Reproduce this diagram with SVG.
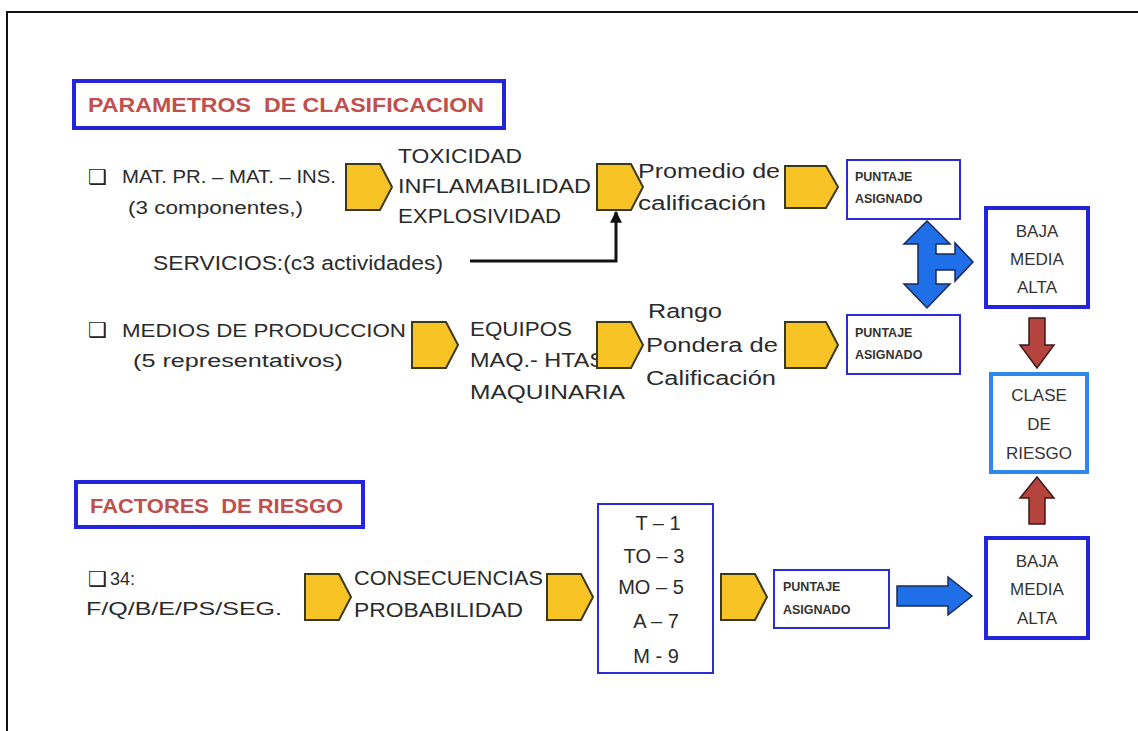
<svg xmlns="http://www.w3.org/2000/svg" width="1138" height="731" viewBox="0 0 1138 731">
<style>
text{font-family:"Liberation Sans",Arial,sans-serif;fill:#2b2b2b}
.t{font-size:20px}
.m{font-size:18px}
.h{font-size:21px;font-weight:bold;fill:#c0504d}
.s{font-size:12.5px;font-weight:bold;fill:#333}
.b{font-size:17px;fill:#333}
.cb{font-family:"DejaVu Sans",sans-serif;font-size:21px;font-weight:bold;fill:#222}
.pent{fill:#f7c325;stroke:#3a3a1a;stroke-width:2}
.box{fill:#fff;stroke:#2b2bd8;stroke-width:2}
.tbox{fill:#fff;stroke:#2424dc;stroke-width:4}
.blue{fill:#1f6fe8;stroke:#1a2a55;stroke-width:1.5}
.red{fill:#b5443f;stroke:#3a1a1a;stroke-width:1.5}
</style>
<defs>
<marker id="ah" viewBox="0 0 10 10" refX="9" refY="5" markerWidth="4" markerHeight="4" orient="auto"><path d="M0,0 L10,5 L0,10 Z" fill="#111"/></marker>
<path id="pg" d="M0,0 H34 L46,23 L34,46 H0 Z"/>
</defs>
<rect width="1138" height="731" fill="#fff"/>
<path d="M7,731 V12 H1138" fill="none" stroke="#111" stroke-width="2"/>

<g id="title1"><rect x="74" y="81" width="430" height="47" class="tbox"/><text x="88" y="112" class="h" textLength="396" lengthAdjust="spacingAndGlyphs">PARAMETROS&#160; DE CLASIFICACION</text></g>
<g id="title2"><rect x="76" y="482" width="287" height="45" class="tbox"/><text x="90" y="513" class="h" textLength="253" lengthAdjust="spacingAndGlyphs">FACTORES&#160; DE RIESGO</text></g>

<g id="matpr"><text x="88" y="184" class="cb">❑</text><text x="122" y="183" class="m" textLength="214" lengthAdjust="spacingAndGlyphs">MAT. PR. – MAT. – INS.</text><text x="128" y="214" class="m" textLength="175" lengthAdjust="spacingAndGlyphs">(3 componentes,)</text></g>
<g id="p1"><use href="#pg" x="346" y="164" class="pent"/></g>
<g id="tox"><text x="398" y="163" class="t" textLength="124" lengthAdjust="spacingAndGlyphs">TOXICIDAD</text><text x="398" y="193" class="t" textLength="193" lengthAdjust="spacingAndGlyphs">INFLAMABILIDAD</text><text x="398" y="223" class="t" textLength="163" lengthAdjust="spacingAndGlyphs">EXPLOSIVIDAD</text></g>
<g id="serv"><text x="153" y="270" class="t" textLength="290" lengthAdjust="spacingAndGlyphs">SERVICIOS:(c3 actividades)</text></g>
<g id="p2"><use href="#pg" x="597" y="164" class="pent"/></g>
<g id="prom"><text x="638" y="178" class="t" textLength="142" lengthAdjust="spacingAndGlyphs">Promedio de</text><text x="638" y="210" class="t" textLength="128" lengthAdjust="spacingAndGlyphs">calificación</text></g>
<g id="p3"><path d="M785,166 H826 L838,187 L826,208 H785 Z" class="pent"/></g>
<g id="punt1"><rect x="847" y="160" width="113" height="59" class="box"/><text x="855" y="181" class="s">PUNTAJE</text><text x="855" y="203" class="s">ASIGNADO</text></g>
<g id="bma1"><rect x="986" y="208" width="102" height="99" class="tbox"/><text x="1037" y="237" class="b" text-anchor="middle">BAJA</text><text x="1037" y="265" class="b" text-anchor="middle">MEDIA</text><text x="1037" y="293" class="b" text-anchor="middle">ALTA</text></g>

<g id="medios"><text x="88" y="337" class="cb">❑</text><text x="122" y="337" class="m" textLength="284" lengthAdjust="spacingAndGlyphs">MEDIOS DE PRODUCCION</text><text x="133" y="367" class="m" textLength="210" lengthAdjust="spacingAndGlyphs">(5 representativos)</text></g>
<g id="p4"><use href="#pg" x="412" y="322" class="pent"/></g>
<g id="equipos"><text x="470" y="336" class="t" textLength="102" lengthAdjust="spacingAndGlyphs">EQUIPOS</text><text x="470" y="367" class="t" textLength="135" lengthAdjust="spacingAndGlyphs">MAQ.- HTAS</text><text x="470" y="399" class="t" textLength="155" lengthAdjust="spacingAndGlyphs">MAQUINARIA</text></g>
<g id="p5"><use href="#pg" x="597" y="322" class="pent"/></g>
<g id="rango"><text x="648" y="318" class="t" textLength="74" lengthAdjust="spacingAndGlyphs">Rango</text><text x="646" y="352" class="t" textLength="132" lengthAdjust="spacingAndGlyphs">Pondera de</text><text x="646" y="385" class="t" textLength="130" lengthAdjust="spacingAndGlyphs">Calificación</text></g>
<g id="p6"><path d="M785,322 H826 L838,345 L826,368 H785 Z" class="pent"/></g>
<g id="punt2"><rect x="847" y="315" width="113" height="59" class="box"/><text x="855" y="337" class="s">PUNTAJE</text><text x="855" y="359" class="s">ASIGNADO</text></g>
<g id="clase"><rect x="991" y="374" width="96" height="98" fill="#fff" stroke="#2f86ec" stroke-width="4"/><text x="1039" y="401" class="b" text-anchor="middle">CLASE</text><text x="1039" y="430" class="b" text-anchor="middle">DE</text><text x="1039" y="459" class="b" text-anchor="middle">RIESGO</text></g>

<g id="f34"><text x="88" y="586" class="cb">❑</text><text x="110" y="585" class="m">34:</text><text x="86" y="615" class="m" textLength="196" lengthAdjust="spacingAndGlyphs">F/Q/B/E/PS/SEG.</text></g>
<g id="p7"><use href="#pg" x="305" y="574" class="pent"/></g>
<g id="conse"><text x="354" y="585" class="t" textLength="189" lengthAdjust="spacingAndGlyphs">CONSECUENCIAS</text><text x="354" y="617" class="t" textLength="169" lengthAdjust="spacingAndGlyphs">PROBABILIDAD</text></g>
<g id="p8"><use href="#pg" x="547" y="574" class="pent"/></g>
<g id="escala"><rect x="598" y="504" width="115" height="169" class="box"/><text x="658" y="530" class="t" text-anchor="middle">T – 1</text><text x="654" y="563" class="t" text-anchor="middle">TO – 3</text><text x="651" y="594" class="t" text-anchor="middle">MO – 5</text><text x="656" y="628" class="t" text-anchor="middle">A – 7</text><text x="656" y="663" class="t" text-anchor="middle">M - 9</text></g>
<g id="p9"><use href="#pg" x="721" y="574" class="pent"/></g>
<g id="punt3"><rect x="774" y="570" width="115" height="58" class="box"/><text x="783" y="591" class="s">PUNTAJE</text><text x="783" y="614" class="s">ASIGNADO</text></g>
<g id="bma2"><rect x="986" y="538" width="102" height="100" class="tbox"/><text x="1037" y="567" class="b" text-anchor="middle">BAJA</text><text x="1037" y="595" class="b" text-anchor="middle">MEDIA</text><text x="1037" y="624" class="b" text-anchor="middle">ALTA</text></g>

<g id="connectors">
<path d="M470,261 H616 V212" fill="none" stroke="#111" stroke-width="3" marker-end="url(#ah)"/>
<path d="M927,221 L950,244 L936,244 L936,254 L955,254 L955,243 L973,262 L955,281 L955,270 L936,270 L936,284 L950,284 L927,308 L904,284 L918,284 L918,244 L904,244 Z" class="blue"/>
<path d="M1029,318 H1045 V345 H1054 L1037,368 L1020,345 H1029 Z" class="red"/>
<path d="M1037,477 L1054,498 H1045 V524 H1029 V498 H1020 Z" class="red"/>
<path d="M897,586 H948 V577 L972,596 L948,615 V606 H897 Z" class="blue"/>
</g>
</svg>
